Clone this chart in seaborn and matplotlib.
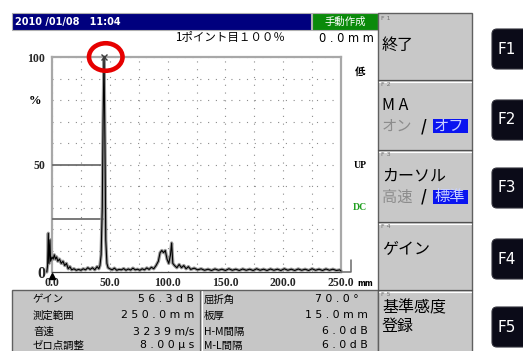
"""
Flaw detector A-scan screen: echo trace with gates, header, info panel and function keys.
"""

import matplotlib
matplotlib.use("Agg")
import matplotlib.pyplot as plt
import matplotlib.patches as mpatches
from matplotlib.ticker import MultipleLocator
import seaborn as sns

sns.set_theme(style="white")
plt.rcParams['font.family'] = ['Noto Sans CJK JP', 'DejaVu Sans']

# -------------------------------------------------- DATA -------------------------------------------------- #

# echo trace: beam path (mm) and echo height (%)
trace_mm = [-4.5, -3.8, -3.2, -2.6, -1.8, -1.2, 0.0, 1.0, 2.0, 3.0, 4.0, 5.0, 6.5, 8.0, 9.5,
            11.0, 12.5, 14.0, 15.5, 17.0, 19.0, 21.0, 23.0, 25.0, 27.0, 29.0, 31.0, 33.0, 35.0,
            37.0, 39.0, 40.5, 41.5, 42.5, 43.5, 44.2, 45.0, 45.8, 46.5, 47.5, 48.5, 50.0, 52.0,
            54.0, 56.0, 58.0, 60.0, 62.0, 64.0, 66.0, 68.0, 70.0, 72.0, 74.0, 76.0, 78.0, 80.0,
            82.0, 84.0, 86.0, 88.0, 90.0, 92.0, 93.5, 95.0, 96.5, 98.0, 99.5, 101.0, 102.5,
            103.5, 104.5, 106.0, 108.0, 110.0, 112.0, 114.0, 116.0, 118.0, 120.0, 123.0, 126.0,
            129.0, 132.0, 135.0, 138.0, 141.0, 144.0, 147.0, 150.0, 153.0, 156.0, 159.0, 162.0,
            165.0, 168.0, 171.0, 174.0, 177.0, 180.0, 183.0, 186.0, 189.0, 192.0, 195.0, 198.0,
            201.0, 204.0, 207.0, 210.0, 213.0, 216.0, 219.0, 222.0, 225.0, 228.0, 231.0, 234.0,
            237.0, 240.0, 243.0, 246.0, 249.0, 250.0]
trace_amp = [0.0, 3.0, 18.0, 4.0, 15.0, 5.0, 7.0, 6.0, 8.0, 6.0, 7.0, 5.0, 6.0, 4.0, 5.0,
             3.0, 4.0, 1.5, 2.5, 1.0, 1.5, 0.8, 1.2, 0.8, 1.5, 1.0, 2.0, 1.2, 2.0,
             1.0, 2.5, 1.5, 3.0, 8.0, 30.0, 70.0, 100.0, 60.0, 15.0, 4.0, 2.0, 1.5, 1.0,
             1.8, 0.8, 1.2, 1.0, 1.6, 0.8, 1.4, 0.9, 1.8, 1.0, 1.3, 0.8, 1.5, 1.0,
             1.9, 1.2, 2.2, 1.5, 3.0, 5.0, 9.0, 10.0, 9.0, 10.0, 6.0, 4.0, 8.0,
             13.5, 4.0, 3.0, 2.0, 3.5, 2.0, 3.0, 1.5, 2.5, 1.2, 1.8, 1.0,
             1.5, 0.8, 1.3, 0.7, 1.4, 0.8, 1.3, 0.7, 1.5, 0.8, 1.3, 0.7,
             1.4, 0.8, 1.3, 0.7, 1.5, 0.8, 1.3, 0.7, 1.4, 0.8, 1.3, 0.7,
             1.5, 0.8, 1.3, 0.7, 1.4, 0.8, 1.3, 0.7, 1.5, 0.8, 1.3, 0.7,
             1.4, 0.8, 1.3, 0.7, 1.0, 0.5]

x_ticks = [0, 50, 100, 150, 200, 250]
x_tick_labels = ["0.0", "50.0", "100.0", "150.0", "200.0", "250.0"]
y_ticks = [0, 50, 100]
y_tick_labels = ["0", "50", "100"]

dac_levels = [50.0, 24.5]
gate_end_mm = [250.0, 259.0, 259.0]
gate_end_amp = [0.0, 0.0, 5.5]

header_date = "2010 /01/08   11:04"
header_mode = "手動作成"
point_text = "1ポイント目１００％"
point_dist = "0 . 0 m m"

info_left_labels = ["ゲイン", "測定範囲", "音速", "ゼロ点調整"]
info_left_values = ["5 6 . 3 d B", "2 5 0 . 0 m m", "3 2 3 9 m/s", "8 . 0 0 μ s"]
info_right_labels = ["屈折角", "板厚", "H-M間隔", "M-L間隔"]
info_right_values = ["7 0 . 0 °", "1 5 . 0 m m", "6 . 0 d B", "6 . 0 d B"]

fkey_names = ["F1", "F2", "F3", "F4", "F5"]
fkey_titles = [["終了"], ["M A"], ["カーソル"], ["ゲイン"], ["基準感度", "登録"]]
fkey_toggles = [None, ("オン", "オフ"), ("高速", "標準"), None, None]

# -------------------------------------------------- FIGURE -------------------------------------------------- #

W, H = 523, 351
fig = plt.figure(figsize=(W / 100, H / 100), dpi=100)
fig.patch.set_facecolor("white")

# pixel-space layer for the screen furniture
ui = fig.add_axes([0, 0, 1, 1], zorder=0)
ui.set_xlim(0, W)
ui.set_ylim(H, 0)
ui.axis("off")


def rect(x0, y0, x1, y1, fc, ec="none", lw=0.8, **kw):
    ui.add_patch(mpatches.Rectangle((x0, y0), x1 - x0, y1 - y0, fc=fc, ec=ec, lw=lw, **kw))


def txt(x, y, s, size=8, color="black", ha="left", va="center", **kw):
    ui.text(x, y, s, fontsize=size, color=color, ha=ha, va=va, **kw)


# header bar
rect(12, 13, 311, 30, "#00007e", ec="#b0b0b0")
rect(312, 13, 378, 30, "#0a8a0a", ec="#b0b0b0")
txt(15, 21.5, header_date, size=7, color="white", weight="bold", family="DejaVu Sans")
txt(345, 21.5, header_mode, size=7.5, color="white", ha="center")
txt(175, 38, point_text, size=8.3)
txt(374, 38, point_dist, size=8.3, ha="right", family="DejaVu Sans")

# side indicators
txt(360, 72, "低", size=7.5, ha="center", weight="bold")
txt(360, 165, "UP", size=7, ha="center", weight="bold", family="Liberation Serif")
txt(360, 208, "DC", size=7, ha="center", weight="bold", color="#22a022", family="Liberation Serif")
txt(35, 101, "%", size=9, ha="center", weight="bold", family="Liberation Serif")
txt(357, 283, "mm", size=5.5, weight="bold", family="DejaVu Sans")

# info panel
rect(12, 290, 378, 352, "#c6c6c6", ec="#606060", lw=1)
ui.plot([200, 200], [290, 352], color="#606060", lw=0.9)
ui.plot([201.5, 201.5], [291, 352], color="white", lw=0.8)
rows_y = [299.5, 315.5, 331.5, 345.5]
for yy, lab, val in zip(rows_y, info_left_labels, info_left_values):
    txt(33, yy, lab, size=7.5)
    txt(194, yy, val, size=7.8, ha="right", family="DejaVu Sans")
for yy, lab, val in zip(rows_y, info_right_labels, info_right_values):
    txt(204, yy, lab, size=7.5)
    txt(368 if "°" not in val else 359, yy, val, size=7.8, ha="right", family="DejaVu Sans")

# function key panels
panel_y = [13, 80, 150, 222, 290, 352]
title_y = [[45], [106], [176], [250], [308, 327]]
toggle_y = [None, 126, 197, None, None]
key_cy = [49, 120, 188, 259, 327]
rect(378, 13, 472, 352, "#c8c8c8", ec="#606060", lw=1)
for i, name in enumerate(fkey_names):
    y0 = panel_y[i]
    if i > 0:
        ui.plot([378, 472], [y0, y0], color="#505050", lw=0.9)
        ui.plot([379, 471], [y0 + 1.5, y0 + 1.5], color="white", lw=0.8)
    txt(381, y0 + 5, name.replace("F", "F "), size=4.5, color="#707070", family="DejaVu Sans")
    for ty, t in zip(title_y[i], fkey_titles[i]):
        txt(382, ty, t, size=11.5)
    if fkey_toggles[i] is not None:
        off, on = fkey_toggles[i]
        ty = toggle_y[i]
        txt(382, ty, off, size=11, color="#8c8c8c")
        txt(421, ty, "/", size=11, weight="bold")
        rect(433, ty - 7, 468, ty + 7, "#0a14f0")
        txt(434, ty, on, size=11, color="#c8d0ff")
    # hardware key
    ui.add_patch(mpatches.FancyBboxPatch((492, key_cy[i] - 20), 40, 40,
                                         boxstyle="round,pad=0,rounding_size=5",
                                         fc="#0b0b18", ec="#30303a", lw=0.8))
    txt(507, key_cy[i], name, size=11, color="white", ha="center", family="DejaVu Sans")

# -------------------------------------------------- A-SCAN -------------------------------------------------- #

ax = fig.add_axes([52 / W, (H - 272) / H, 289 / W, 215 / H], zorder=1)
ax.set_facecolor("none")
ax.set_xlim(0, 250)
ax.set_ylim(0, 100)

ax.xaxis.set_minor_locator(MultipleLocator(25))
ax.yaxis.set_minor_locator(MultipleLocator(10))
ax.set_axisbelow(True)
ax.grid(which="both", ls=(0, (1, 6)), color="#8c8c8c", lw=0.8)

peak_i = trace_amp.index(max(trace_amp))
peak_mm, peak_amp = trace_mm[peak_i], trace_amp[peak_i]

ax.hlines(dac_levels, 0, peak_mm, color="#6e6e6e", lw=1.3, zorder=3)

sns.lineplot(x=trace_mm, y=trace_amp, ax=ax, sort=False, color="#9a9a9a", lw=2.4, zorder=4)
sns.lineplot(x=trace_mm, y=trace_amp, ax=ax, sort=False, color="black", lw=0.8, zorder=5)
for line in ax.lines:
    line.set_clip_on(False)

ax.plot(gate_end_mm, gate_end_amp, color="#6a6a6a", lw=1.1, clip_on=False, zorder=4)
ax.plot([0], [-1.8], marker="^", ms=4, color="black", clip_on=False, zorder=6)
ax.plot([peak_mm], [peak_amp], marker="x", ms=4, mew=1, color="#3c3c3c", clip_on=False, zorder=6)
ax.add_patch(mpatches.Ellipse((peak_mm + 1.5, peak_amp), 29, 12.8, fill=False,
                              ec="#e60000", lw=3.3, clip_on=False, zorder=7))

ax.set_xticks(x_ticks)
ax.set_xticklabels(x_tick_labels)
ax.set_yticks(y_ticks)
ax.set_yticklabels(y_tick_labels)
ax.tick_params(which="both", length=0)
ax.tick_params(axis="x", pad=3.5)
ax.tick_params(axis="y", pad=5)
for lbl in ax.get_xticklabels() + ax.get_yticklabels():
    lbl.set_fontfamily("Liberation Serif")
    lbl.set_fontweight("bold")
    lbl.set_fontsize(8.5)
ax.get_yticklabels()[0].set_fontsize(11.5)

for side in ["left", "top", "right"]:
    ax.spines[side].set_color("#a8a8a8")
    ax.spines[side].set_linewidth(1.6)
ax.spines["bottom"].set_color("#404040")
ax.spines["bottom"].set_linewidth(0.9)

ax.set_xlabel("")
ax.set_ylabel("")

fig.savefig("out.png", dpi=100)
